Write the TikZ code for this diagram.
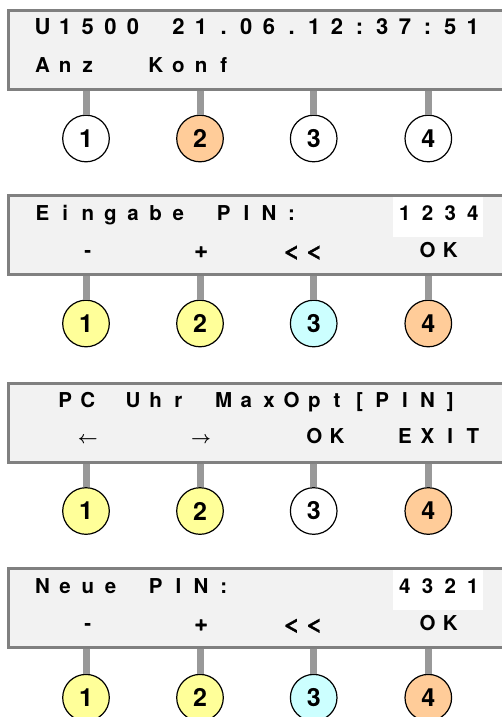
\documentclass[tikz,border=0pt]{standalone}
\usepackage{fontspec}
\setmainfont{TeX Gyre Heros}
\newfontfamily\lcdbold{texgyreheros-bold.otf}
\newfontfamily\lcdsym{texgyreheros-bold.otf}[FakeBold=1.2]
\definecolor{panelfill}{HTML}{F2F2F2}
\definecolor{panelline}{HTML}{808080}
\definecolor{stemgray}{HTML}{999999}
\definecolor{keyyellow}{HTML}{FFFF99}
\definecolor{keyorange}{HTML}{FFCC99}
\definecolor{keycyan}{HTML}{CCFFFF}
\tikzset{
  panel/.style={draw=panelline, line width=3pt, fill=panelfill, rectangle, inner sep=0pt, outer sep=0pt, minimum width=520pt, minimum height=79pt, anchor=north west},
  pinbox/.style={fill=white, rectangle, inner sep=0pt, minimum width=90pt, minimum height=39.5pt, anchor=north west},
  stem/.style={draw=stemgray, line width=7pt},
  key/.style={circle, draw=black, line width=1.2pt, minimum size=46.6pt, inner sep=0pt, font=\lcdbold\fontsize{25}{25}\selectfont},
  lcd/.style={anchor=base, inner sep=0pt, font=\lcdbold\fontsize{20.5}{20.5}\selectfont},
  lcdbig/.style={anchor=base, inner sep=0pt, font=\lcdbold\fontsize{22}{22}\selectfont},
  lcdsymb/.style={anchor=base, inner sep=0pt, font=\lcdsym\fontsize{23}{23}\selectfont},
  arrowlbl/.style={anchor=base, inner sep=0pt, font=\fontsize{18}{18}\selectfont\boldmath},
}
\newcommand\lcdline[5][lcd]{%
  \foreach \ch [count=\k from #4] in {#5} {\node[#1] (#2-\k) at ({42.5+22.65*\k}, #3) {\ch};}%
}
\newcommand\wideless{\scalebox{1.3}[0.85]{<}}
\begin{document}
\begin{tikzpicture}[x=1pt,y=-1pt]
\useasboundingbox (0,0) rectangle (502,717);
% key positions
\def\kA{86}\def\kB{200}\def\kC{313.7}\def\kD{428.3}
% ---------- panel 1 ----------
\def\T{10.5}
\node[key, fill=white]     (k1a) at (\kA, \T+128) {1};
\node[key, fill=keyorange] (k1b) at (\kB, \T+128) {2};
\node[key, fill=white]     (k1c) at (\kC, \T+128) {3};
\node[key, fill=white]     (k1d) at (\kD, \T+128) {4};
\node[panel] (p1) at (8.7, \T) {};
\foreach \kk in {k1a,k1b,k1c,k1d} {\draw[stem] (\kk.north |- p1.south) ++(0,1.5) -- (\kk.north);}
\lcdline[lcdbig]{p1a}{\T+24.5}{0}{U,1,5,0,0}
\lcdline[lcdbig]{p1b}{\T+24.5}{6}{2,1,{.},0,6,{.},1,2,:,3,7,:,5,1}
\lcdline{p1c}{\T+62}{0}{A,n,z}
\lcdline{p1d}{\T+62}{5}{K,o,n,f}
% ---------- panel 2 ----------
\def\T{195.5}
\node[key, fill=keyyellow] (k2a) at (\kA, \T+128) {1};
\node[key, fill=keyyellow] (k2b) at (\kB, \T+128) {2};
\node[key, fill=keycyan]   (k2c) at (\kC, \T+128) {3};
\node[key, fill=keyorange] (k2d) at (\kD, \T+128) {4};
\node[panel] (p2) at (8.7, \T) {};
\foreach \kk in {k2a,k2b,k2c,k2d} {\draw[stem] (\kk.north |- p2.south) ++(0,1.5) -- (\kk.north);}
\node[pinbox] (w2) at (393, \T+1.5) {};
\lcdline{p2a}{\T+24.5}{0}{E,i,n,g,a,b,e}
\lcdline{p2b}{\T+24.5}{8}{P,I,N,:}
\lcdline{p2c}{\T+24.5}{16}{1,2,3,4}
\lcdline{p2d}{\T+62}{2}{-}
\lcdline[lcdsymb]{p2e}{\T+62}{7}{+}
\lcdline[lcdsymb]{p2f}{\T+62}{11}{\wideless,\wideless}
\lcdline{p2g}{\T+62}{17}{O,K}
% ---------- panel 3 ----------
\def\T{383}
\node[key, fill=keyyellow] (k3a) at (\kA, \T+128) {1};
\node[key, fill=keyyellow] (k3b) at (\kB, \T+128) {2};
\node[key, fill=white]     (k3c) at (\kC, \T+128) {3};
\node[key, fill=keyorange] (k3d) at (\kD, \T+128) {4};
\node[panel] (p3) at (8.7, \T) {};
\foreach \kk in {k3a,k3b,k3c,k3d} {\draw[stem] (\kk.north |- p3.south) ++(0,1.5) -- (\kk.north);}
\lcdline{p3a}{\T+24.5}{1}{P,C}
\lcdline{p3b}{\T+24.5}{4}{U,h,r}
\lcdline{p3c}{\T+24.5}{8}{M,a,x,O,p,t,{[},P,I,N,{]}}
\node[arrowlbl] (p3left)  at ({42.5+22.65*2}, \T+60) {$\leftarrow$};
\node[arrowlbl] (p3right) at ({42.5+22.65*7}, \T+60) {$\rightarrow$};
\lcdline{p3d}{\T+60.5}{12}{O,K}
\lcdline{p3e}{\T+60.5}{16}{E,X,I,T}
% ---------- panel 4 ----------
\def\T{568.7}
\node[key, fill=keyyellow] (k4a) at (\kA, \T+129) {1};
\node[key, fill=keyyellow] (k4b) at (\kB, \T+129) {2};
\node[key, fill=keycyan]   (k4c) at (\kC, \T+129) {3};
\node[key, fill=keyorange] (k4d) at (\kD, \T+129) {4};
\node[panel] (p4) at (8.7, \T) {};
\foreach \kk in {k4a,k4b,k4c,k4d} {\draw[stem] (\kk.north |- p4.south) ++(0,1.5) -- (\kk.north);}
\node[pinbox] (w4) at (393, \T+1.5) {};
\lcdline{p4a}{\T+24.5}{0}{N,e,u,e}
\lcdline{p4b}{\T+24.5}{5}{P,I,N,:}
\lcdline{p4c}{\T+24.5}{16}{4,3,2,1}
\lcdline{p4d}{\T+62}{2}{-}
\lcdline[lcdsymb]{p4e}{\T+62}{7}{+}
\lcdline[lcdsymb]{p4f}{\T+62}{11}{\wideless,\wideless}
\lcdline{p4g}{\T+62}{17}{O,K}
\end{tikzpicture}
\end{document}
